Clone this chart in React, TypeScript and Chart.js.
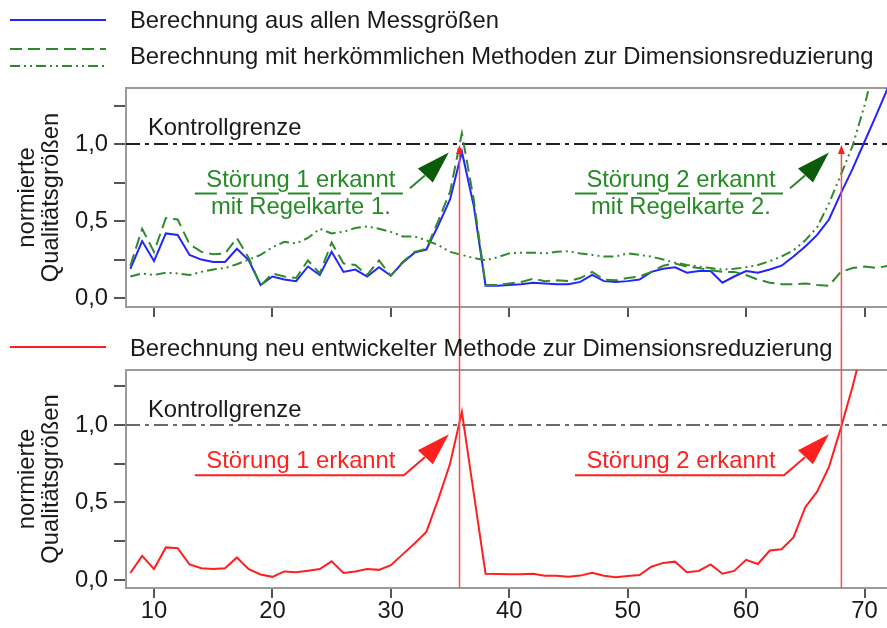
import React, { useEffect, useRef } from 'react';
import { Chart, registerables } from 'chart.js';

Chart.register(...registerables);

// ---------- data ----------
const xValues = [
  8, 9, 10, 11, 12, 13, 14, 15, 16, 17, 18, 19, 20, 21, 22, 23, 24, 25, 26, 27, 28, 29,
  30, 31, 32, 33, 34, 35, 36, 37, 38, 39, 40, 41, 42, 43, 44, 45, 46, 47, 48, 49, 50,
  51, 52, 53, 54, 55, 56, 57, 58, 59, 60, 61, 62, 63, 64, 65, 66, 67, 68, 69, 70, 71, 72,
];

const allMeasurements = [
  0.19, 0.37, 0.24, 0.42, 0.41, 0.28, 0.25, 0.235, 0.235, 0.32, 0.245, 0.085, 0.14, 0.12, 0.11, 0.205, 0.15, 0.3, 0.17, 0.185, 0.14, 0.2,
  0.145, 0.23, 0.295, 0.315, 0.47, 0.64, 0.95, 0.6, 0.08, 0.08, 0.085, 0.09, 0.1, 0.095, 0.09, 0.09, 0.105, 0.15, 0.11, 0.105, 0.11,
  0.12, 0.17, 0.19, 0.2, 0.165, 0.175, 0.175, 0.1, 0.14, 0.175, 0.165, 0.185, 0.21, 0.27, 0.335, 0.41, 0.51, 0.68, 0.84, 1.015, 1.19, 1.37,
];

const conventionalDashed = [
  0.21, 0.45, 0.3, 0.52, 0.51, 0.35, 0.3, 0.285, 0.29, 0.39, 0.26, 0.08, 0.16, 0.14, 0.13, 0.245, 0.16, 0.36, 0.225, 0.215, 0.15, 0.245,
  0.145, 0.235, 0.3, 0.32, 0.5, 0.69, 1.07, 0.64, 0.085, 0.085, 0.095, 0.105, 0.125, 0.11, 0.115, 0.11, 0.13, 0.17, 0.12, 0.115, 0.13,
  0.14, 0.17, 0.21, 0.225, 0.205, 0.195, 0.18, 0.17, 0.17, 0.15, 0.12, 0.1, 0.09, 0.09, 0.095, 0.085, 0.08, 0.17, 0.195, 0.205, 0.195, 0.21,
];

const conventionalDashDot = [
  0.14, 0.16, 0.15, 0.165, 0.16, 0.15, 0.17, 0.185, 0.195, 0.22, 0.25, 0.28, 0.33, 0.365, 0.355, 0.39, 0.45, 0.42, 0.43, 0.455, 0.465, 0.45,
  0.43, 0.4, 0.4, 0.375, 0.345, 0.3, 0.28, 0.26, 0.245, 0.265, 0.29, 0.295, 0.295, 0.29, 0.3, 0.305, 0.29, 0.28, 0.27, 0.27, 0.29,
  0.28, 0.27, 0.25, 0.23, 0.215, 0.205, 0.195, 0.185, 0.19, 0.2, 0.215, 0.24, 0.27, 0.31, 0.375, 0.46, 0.615, 0.8, 0.99, 1.25, 1.55, null,
];

const newMethod = [
  0.045, 0.155, 0.07, 0.21, 0.205, 0.1, 0.075, 0.07, 0.075, 0.145, 0.07, 0.035, 0.02, 0.055, 0.05, 0.06, 0.07, 0.12, 0.045, 0.055, 0.07, 0.065,
  0.095, 0.165, 0.235, 0.31, 0.52, 0.75, 1.085, 0.56, 0.04, 0.038, 0.036, 0.036, 0.04, 0.027, 0.027, 0.02, 0.028, 0.047, 0.027, 0.018, 0.026,
  0.032, 0.085, 0.11, 0.118, 0.05, 0.058, 0.1, 0.04, 0.058, 0.13, 0.103, 0.19, 0.198, 0.275, 0.47, 0.57, 0.73, 0.98, 1.25, 1.55, null, null,
];

const legendTop = [
  'Berechnung aus allen Messgrößen',
  'Berechnung mit herkömmlichen Methoden zur Dimensionsreduzierung',
];
const legendBottom = 'Berechnung neu entwickelter Methode zur Dimensionsreduzierung';
const axisTitle = ['normierte', 'Qualitätsgrößen'];
const controlLabel = 'Kontrollgrenze';
const controlLimit = 1.0;
const controlLabelX = 9.49;
const detectionX = [35.8, 68.05];
const arrowTipX = [34.9, 67.0];
const arrowTipYTop = 0.945;
const arrowTipYBottom = 0.94;
const topNotes = [
  ['Störung 1 erkannt', 'mit Regelkarte 1.'],
  ['Störung 2 erkannt', 'mit Regelkarte 2.'],
];
const bottomNotes = ['Störung 1 erkannt', 'Störung 2 erkannt'];

const xMin = 7.635;
const xMax = 71.9;

// ---------- styles ----------
const FONT = '"Liberation Sans", Arial, Helvetica, sans-serif';
const FS = 23.8;
const BLUE = '#2424ff';
const GREEN = '#2f8a2f';
const GREEN_TEXT = '#268a26';
const GREEN_DARK = '#0a5c0a';
const RED = '#ff1f1f';
const RED_LINE = '#ff4a4a';
const AXIS = '#9a9a9a';
const TICK = '#555';
const TEXT = '#1a1a1a';
const DASHED = [12, 6];
const DASHDOT = [10, 4, 2, 4, 2, 4];

const pts = (arr: (number | null)[]) => xValues.map((x, i) => ({ x, y: arr[i] }));

function yScale(min: number, max: number) {
  return {
    type: 'linear',
    min,
    max,
    ticks: {
      stepSize: 0.25,
      includeBounds: false,
      padding: 6,
      color: TEXT,
      font: { family: FONT, size: FS, lineHeight: 1 },
      callback: (v: number) =>
        Math.abs(v * 2 - Math.round(v * 2)) < 1e-6 ? v.toFixed(1).replace('.', ',') : '',
    },
    grid: { drawOnChartArea: false, drawTicks: true, tickLength: 12, color: TICK, lineWidth: 2 },
    border: { display: true, color: AXIS, width: 2 },
    title: {
      display: true,
      text: axisTitle,
      color: TEXT,
      font: { family: FONT, size: FS, lineHeight: 1 },
      padding: { top: 16, bottom: 0 },
    },
    afterFit: (s: any) => {
      s.width = 126;
    },
  };
}

function xScale(showLabels: boolean, h: number) {
  return {
    type: 'linear',
    min: xMin,
    max: xMax,
    ticks: {
      stepSize: 10,
      includeBounds: false,
      display: showLabels,
      padding: 2,
      color: TEXT,
      font: { family: FONT, size: FS, lineHeight: 1 },
    },
    grid: { drawOnChartArea: false, drawTicks: true, tickLength: 10, color: TICK, lineWidth: 2 },
    border: { display: true, color: AXIS, width: 2 },
    afterFit: (s: any) => {
      s.height = h;
    },
  };
}

function hline(ctx: CanvasRenderingContext2D, x1: number, x2: number, y: number, color: string, dash: number[], w = 2) {
  ctx.save();
  ctx.strokeStyle = color;
  ctx.lineWidth = w;
  ctx.setLineDash(dash);
  ctx.beginPath();
  ctx.moveTo(x1, y);
  ctx.lineTo(x2, y);
  ctx.stroke();
  ctx.restore();
}

function drawArrowNote(
  ctx: CanvasRenderingContext2D,
  tx: number,
  ty: number,
  lines: string[],
  color: string,
  textColor: string,
  headColor: string,
  dash: number[],
) {
  ctx.save();
  ctx.strokeStyle = color;
  ctx.lineWidth = 2;
  ctx.setLineDash(dash);
  ctx.beginPath();
  ctx.moveTo(tx - 254, ty + 41);
  ctx.lineTo(tx - 45, ty + 41);
  ctx.lineTo(tx - 24, ty + 23);
  ctx.stroke();
  ctx.setLineDash([]);
  ctx.fillStyle = headColor;
  ctx.beginPath();
  ctx.moveTo(tx, ty);
  ctx.lineTo(tx - 31, ty + 16);
  ctx.lineTo(tx - 16, ty + 30);
  ctx.closePath();
  ctx.fill();
  ctx.fillStyle = textColor;
  ctx.font = `${FS}px ${FONT}`;
  ctx.textAlign = 'center';
  ctx.textBaseline = 'alphabetic';
  lines.forEach((t, i) => ctx.fillText(t, tx - 148, ty + 34 + i * 27));
  ctx.restore();
}

function drawFrameAndLimit(chart: any, limitColor: string, labelOffset: number) {
  const { ctx, chartArea: a, scales } = chart;
  const x = scales.x;
  const y = scales.y;
  hline(ctx, a.left, a.right, a.top, AXIS, []);
  const yl = y.getPixelForValue(controlLimit);
  hline(ctx, a.left, a.right, yl, limitColor, [14, 5, 4, 5]);
  ctx.save();
  ctx.fillStyle = TEXT;
  ctx.font = `${FS}px ${FONT}`;
  ctx.textAlign = 'left';
  ctx.textBaseline = 'alphabetic';
  ctx.fillText(controlLabel, x.getPixelForValue(controlLabelX), yl - labelOffset);
  ctx.restore();
}

const topPlugin = {
  id: 'topDecor',
  beforeDatasetsDraw(chart: any) {
    drawFrameAndLimit(chart, '#222', 9);
  },
  afterDatasetsDraw(chart: any) {
    const { ctx, scales } = chart;
    const x = scales.x;
    const y = scales.y;
    const yl = y.getPixelForValue(controlLimit);
    detectionX.forEach((dx) => {
      const px = x.getPixelForValue(dx);
      ctx.save();
      ctx.strokeStyle = RED_LINE;
      ctx.lineWidth = 1.5;
      ctx.beginPath();
      ctx.moveTo(px, yl + 6);
      ctx.lineTo(px, chart.height);
      ctx.stroke();
      ctx.fillStyle = RED;
      ctx.beginPath();
      ctx.moveTo(px, yl + 1);
      ctx.lineTo(px - 3.5, yl + 10);
      ctx.lineTo(px + 3.5, yl + 10);
      ctx.closePath();
      ctx.fill();
      ctx.restore();
    });
    arrowTipX.forEach((tx, i) => {
      drawArrowNote(ctx, x.getPixelForValue(tx), y.getPixelForValue(arrowTipYTop), topNotes[i], GREEN_TEXT, GREEN_TEXT, GREEN_DARK, [22, 9]);
    });
  },
  afterDraw(chart: any) {
    const { ctx } = chart;
    hline(ctx, 10, 106, 20, BLUE, []);
    hline(ctx, 10, 106, 49, GREEN, DASHED);
    hline(ctx, 10, 106, 66, GREEN, DASHDOT);
    ctx.save();
    ctx.fillStyle = TEXT;
    ctx.font = `${FS}px ${FONT}`;
    ctx.textAlign = 'left';
    ctx.textBaseline = 'alphabetic';
    ctx.fillText(legendTop[0], 130, 28);
    ctx.fillText(legendTop[1], 130, 64);
    ctx.restore();
  },
};

const bottomPlugin = {
  id: 'bottomDecor',
  beforeDatasetsDraw(chart: any) {
    drawFrameAndLimit(chart, '#6a6a6a', 8);
  },
  afterDatasetsDraw(chart: any) {
    const { ctx, scales, chartArea: a } = chart;
    const x = scales.x;
    const y = scales.y;
    detectionX.forEach((dx) => {
      const px = x.getPixelForValue(dx);
      ctx.save();
      ctx.strokeStyle = RED_LINE;
      ctx.lineWidth = 1.5;
      ctx.beginPath();
      ctx.moveTo(px, 0);
      ctx.lineTo(px, a.bottom);
      ctx.stroke();
      ctx.restore();
    });
    arrowTipX.forEach((tx, i) => {
      drawArrowNote(ctx, x.getPixelForValue(tx), y.getPixelForValue(arrowTipYBottom), [bottomNotes[i]], RED, RED, RED, []);
    });
  },
  afterDraw(chart: any) {
    const { ctx } = chart;
    hline(ctx, 10, 106, 17, RED, []);
    ctx.save();
    ctx.fillStyle = TEXT;
    ctx.font = `${FS}px ${FONT}`;
    ctx.textAlign = 'left';
    ctx.textBaseline = 'alphabetic';
    ctx.fillText(legendBottom, 130, 26);
    ctx.restore();
  },
};

const common = {
  responsive: false,
  maintainAspectRatio: false,
  animation: false,
  events: [],
  plugins: { legend: { display: false }, tooltip: { enabled: false } },
  elements: { point: { radius: 0 }, line: { tension: 0, borderWidth: 2 } },
};

export default function App() {
  const topRef = useRef<HTMLCanvasElement>(null);
  const botRef = useRef<HTMLCanvasElement>(null);

  useEffect(() => {
    const c1 = new Chart(topRef.current as HTMLCanvasElement, {
      type: 'line',
      data: {
        datasets: [
          { label: legendTop[1] + ' A', data: pts(conventionalDashDot), borderColor: GREEN, borderDash: DASHDOT, borderWidth: 2 },
          { label: legendTop[1] + ' B', data: pts(conventionalDashed), borderColor: GREEN, borderDash: DASHED, borderWidth: 2 },
          { label: legendTop[0], data: pts(allMeasurements), borderColor: BLUE, borderWidth: 2 },
        ],
      },
      options: {
        ...common,
        layout: { padding: { top: 88, left: 0, right: 0, bottom: 0 } },
        scales: { x: xScale(false, 23), y: yScale(-0.058, 1.364) },
      } as any,
      plugins: [topPlugin],
    } as any);
    const c2 = new Chart(botRef.current as HTMLCanvasElement, {
      type: 'line',
      data: {
        datasets: [{ label: legendBottom, data: pts(newMethod), borderColor: RED, borderWidth: 2 }],
      },
      options: {
        ...common,
        layout: { padding: { top: 40, left: 0, right: 0, bottom: 0 } },
        scales: { x: xScale(true, 40), y: yScale(-0.052, 1.355) },
      } as any,
      plugins: [bottomPlugin],
    } as any);
    return () => {
      c1.destroy();
      c2.destroy();
    };
  }, []);

  return (
    <div style={{ position: 'absolute', left: 0, top: 0, width: 887, height: 628, background: '#fff' }}>
      <canvas ref={topRef} width={887} height={330} style={{ position: 'absolute', left: 0, top: 0, display: 'block' }} />
      <canvas ref={botRef} width={887} height={298} style={{ position: 'absolute', left: 0, top: 330, display: 'block' }} />
    </div>
  );
}
